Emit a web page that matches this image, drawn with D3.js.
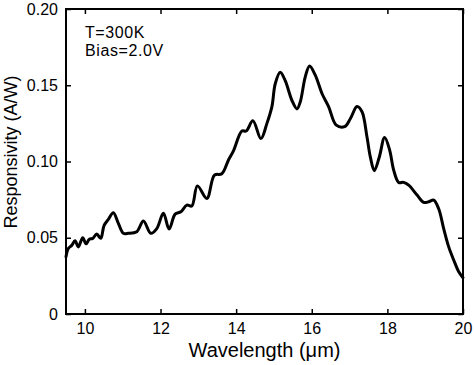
<!DOCTYPE html>
<html><head><meta charset="utf-8">
<script src="https://cdn.jsdelivr.net/npm/d3@7"></script>
<style>
html,body{margin:0;padding:0;background:#fff;}
svg{display:block;font-family:"Liberation Sans",Arial,sans-serif;}
</style></head>
<body>
<svg id="chart" width="474" height="365"></svg>
<script>
const wavelength = [9.50,9.561,9.651,9.738,9.826,9.942,10.030,10.117,10.207,10.313,10.419,10.506,10.620,10.752,10.885,11.017,11.149,11.372,11.547,11.743,11.901,12.076,12.227,12.386,12.537,12.696,12.828,12.976,13.225,13.426,13.622,13.797,13.929,14.152,14.266,14.443,14.655,14.814,14.946,15.034,15.166,15.298,15.476,15.608,15.695,15.828,15.942,16.093,16.270,16.445,16.649,16.868,17.019,17.197,17.329,17.461,17.549,17.655,17.787,17.927,18.060,18.166,18.298,18.430,18.563,18.785,18.960,19.092,19.225,19.357,19.489,19.622,19.754,19.887,20.0];
const responsivity = [0.0375,0.043,0.045,0.048,0.044,0.050,0.046,0.049,0.0496,0.0524,0.0496,0.058,0.062,0.0664,0.0594,0.0529,0.0529,0.054,0.061,0.0529,0.056,0.066,0.0557,0.0655,0.067,0.0714,0.0708,0.084,0.0758,0.091,0.092,0.101,0.107,0.120,0.120,0.1267,0.115,0.125,0.136,0.151,0.1586,0.153,0.140,0.1345,0.139,0.1555,0.1627,0.1566,0.1446,0.136,0.1238,0.1228,0.128,0.136,0.1326,0.116,0.103,0.094,0.103,0.1158,0.1075,0.0944,0.0863,0.0863,0.0845,0.078,0.0732,0.0736,0.0747,0.069,0.056,0.044,0.0354,0.0277,0.0238];
const xTicks = [10,12,14,16,18,20];
const yTicks = [0,0.05,0.10,0.15,0.20];
const yTickLabels = ["0","0.05","0.10","0.15","0.20"];
const annotations = ["T=300K","Bias=2.0V"];

const svg = d3.select("#chart");
const L=66, R=463, T=9, B=314;
const x = d3.scaleLinear().domain([9.5,20]).range([L,R]);
const y = d3.scaleLinear().domain([0,0.2]).range([B,T]);

const pts = wavelength.map((w,i)=>[w,responsivity[i]]);

const g = svg.append("g");
const tickFont = "16px";

const xAxis = d3.axisBottom(x).tickValues(xTicks).tickSizeInner(-5).tickSizeOuter(0).tickPadding(9).tickFormat(d3.format("d"));
g.append("g").attr("transform",`translate(0,${B})`).call(xAxis)
  .call(s=>{s.select(".domain").remove(); s.selectAll("line").attr("stroke","#000").attr("stroke-width",1.5);
    s.selectAll("text").attr("font-size",tickFont).attr("fill","#000").attr("font-family","Liberation Sans, Arial, sans-serif");});
g.append("g").attr("transform",`translate(0,${T})`).call(d3.axisTop(x).tickValues(xTicks).tickSizeInner(-5).tickSizeOuter(0).tickFormat(""))
  .call(s=>{s.select(".domain").remove(); s.selectAll("line").attr("stroke","#000").attr("stroke-width",1.5);});
const yAxis = d3.axisLeft(y).tickValues(yTicks).tickSizeInner(-5).tickSizeOuter(0).tickPadding(8).tickFormat((d,i)=>yTickLabels[i]);
g.append("g").attr("transform",`translate(${L},0)`).call(yAxis)
  .call(s=>{s.select(".domain").remove(); s.selectAll("line").attr("stroke","#000").attr("stroke-width",1.5);
    s.selectAll("text").attr("font-size",tickFont).attr("fill","#000").attr("font-family","Liberation Sans, Arial, sans-serif");});
g.append("g").attr("transform",`translate(${R},0)`).call(d3.axisRight(y).tickValues(yTicks).tickSizeInner(-5).tickSizeOuter(0).tickFormat(""))
  .call(s=>{s.select(".domain").remove(); s.selectAll("line").attr("stroke","#000").attr("stroke-width",1.5);});

g.append("rect").attr("x",L).attr("y",T).attr("width",R-L).attr("height",B-T)
  .attr("fill","none").attr("stroke","#000").attr("stroke-width",2);

const line = d3.line().x(d=>x(d[0])).y(d=>y(d[1])).curve(d3.curveCatmullRom.alpha(0.5));
g.append("path").datum(pts).attr("d",line).attr("fill","none").attr("stroke","#000")
  .attr("stroke-width",3).attr("stroke-linejoin","round").attr("stroke-linecap","round");

g.append("text").attr("x",85).attr("y",38).attr("font-size","16px").attr("letter-spacing","0.6px").text(annotations[0]);
g.append("text").attr("x",85).attr("y",56).attr("font-size","16px").attr("letter-spacing","0.6px").text(annotations[1]);

g.append("text").attr("x",(L+R)/2).attr("y",357).attr("text-anchor","middle").attr("font-size","20px").text("Wavelength (μm)");
g.append("text").attr("transform","translate(17,152) rotate(-90)").attr("text-anchor","middle").attr("font-size","18px").text("Responsivity (A/W)");
</script>
</body></html>
